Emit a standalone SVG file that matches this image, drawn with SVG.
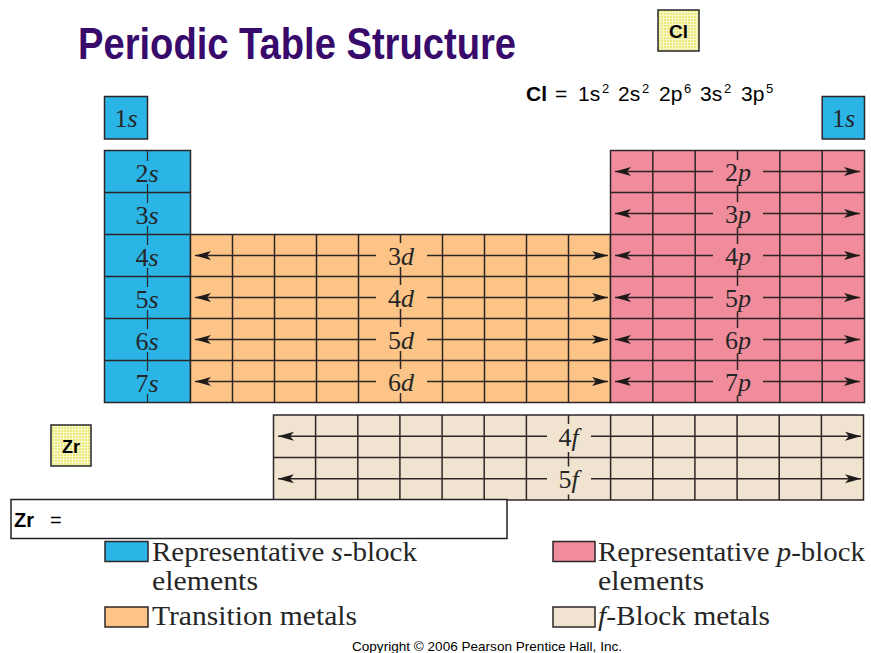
<svg xmlns="http://www.w3.org/2000/svg" width="871" height="653" viewBox="0 0 871 653">
<style>
.bg{fill:#ffffff}
.gl{stroke:#2e2626;stroke-width:1.5;fill:none}
.thin{stroke:#2e2626;stroke-width:1.2;fill:none}
.s{fill:#2BB4E6}
.d{fill:#FCC487}
.p{fill:#F08C9C}
.f{fill:#F0E3D0}
.lbl{font-family:"Liberation Serif","Times New Roman",serif;font-size:26px;fill:#262626;text-anchor:middle}
.it{font-style:italic}
.leg{font-family:"Liberation Serif","Times New Roman",serif;font-size:28px;fill:#262626}
.sw{stroke:#2e2626;stroke-width:1.5}
.sans{font-family:"Liberation Sans",Arial,sans-serif;fill:#000}
.ybox{fill:url(#yel);stroke:#333;stroke-width:1.6}
</style>
<defs>
<pattern id="yel" width="3" height="3" patternUnits="userSpaceOnUse">
<rect width="3" height="3" fill="#E9E97E"/>
<rect width="1" height="3" fill="#F7F7C8"/>
<rect width="3" height="1" fill="#F7F7C8"/>
</pattern>
<marker id="ah" viewBox="0 0 16 10" refX="16" refY="5" markerWidth="16" markerHeight="10" markerUnits="userSpaceOnUse" orient="auto-start-reverse">
<path d="M0,0.5 L16,5 L0,9.5 L4,5 Z" fill="#1e1a1a"/>
</marker>
</defs>
<rect class="bg" width="871" height="653"/>

<g id="title">
<text x="78" y="59" font-family="'Liberation Sans Narrow','Liberation Sans',Arial,sans-serif" font-weight="bold" font-size="44" fill="#370A6B" textLength="438" lengthAdjust="spacingAndGlyphs">Periodic Table Structure</text>
</g>

<g id="cl-box">
<rect class="ybox" x="658" y="10" width="41" height="41"/>
<text class="sans" x="678.5" y="37.5" font-size="19" font-weight="bold" text-anchor="middle">Cl</text>
</g>

<g id="cl-config" class="sans">
<text x="526" y="101" font-size="21" font-weight="bold">Cl</text>
<text x="555" y="101" font-size="21">=</text>
<text x="578" y="101" font-size="21">1s</text><text x="602" y="93" font-size="13">2</text>
<text x="618" y="101" font-size="21">2s</text><text x="642" y="93" font-size="13">2</text>
<text x="659" y="101" font-size="21">2p</text><text x="684" y="93" font-size="13">6</text>
<text x="700" y="101" font-size="21">3s</text><text x="724" y="93" font-size="13">2</text>
<text x="741" y="101" font-size="21">3p</text><text x="766" y="93" font-size="13">5</text>
</g>

<g id="h-1s">
<rect class="s gl" x="104.5" y="96.5" width="43" height="42.5"/>
<text class="lbl" x="126" y="127">1<tspan class="it">s</tspan></text>
</g>

<g id="he-1s">
<rect class="s gl" x="822.2" y="96.5" width="42.3" height="42.5"/>
<text class="lbl" x="843.5" y="127">1<tspan class="it">s</tspan></text>
</g>

<g id="s-block">
<rect class="s" x="104.5" y="150.5" width="86" height="252"/>
<path class="thin" d="M147.5,150.5V402.5"/>
<path class="gl" d="M104.5,192.5H190.5M104.5,234.5H190.5M104.5,276.5H190.5M104.5,318.5H190.5M104.5,360.5H190.5"/>
<g class="s">
<rect x="133" y="161" width="29" height="23"/>
<rect x="133" y="203" width="29" height="23"/>
<rect x="133" y="245" width="29" height="23"/>
<rect x="133" y="287" width="29" height="23"/>
<rect x="133" y="329" width="29" height="23"/>
<rect x="133" y="371" width="29" height="23"/>
</g>
<text class="lbl" x="147" y="182">2<tspan class="it">s</tspan></text>
<text class="lbl" x="147" y="224">3<tspan class="it">s</tspan></text>
<text class="lbl" x="147" y="266">4<tspan class="it">s</tspan></text>
<text class="lbl" x="147" y="308">5<tspan class="it">s</tspan></text>
<text class="lbl" x="147" y="350">6<tspan class="it">s</tspan></text>
<text class="lbl" x="147" y="392">7<tspan class="it">s</tspan></text>
<rect class="gl" x="104.5" y="150.5" width="86" height="252"/>
</g>

<g id="d-block">
<rect class="d" x="190.5" y="234.5" width="420" height="168"/>
<path class="gl" d="M232.5,234.5V402.5M274.5,234.5V402.5M316.5,234.5V402.5M358.5,234.5V402.5M400.5,234.5V402.5M442.5,234.5V402.5M484.5,234.5V402.5M526.5,234.5V402.5M568.5,234.5V402.5"/>
<path class="gl" d="M190.5,276.5H610.5M190.5,318.5H610.5M190.5,360.5H610.5"/>
<g class="d">
<rect x="376" y="243" width="51" height="24"/>
<rect x="376" y="285" width="51" height="24"/>
<rect x="376" y="327" width="51" height="24"/>
<rect x="376" y="369" width="51" height="24"/>
</g>
<text class="lbl" x="401" y="265">3<tspan class="it">d</tspan></text>
<text class="lbl" x="401" y="307">4<tspan class="it">d</tspan></text>
<text class="lbl" x="401" y="349">5<tspan class="it">d</tspan></text>
<text class="lbl" x="401" y="391">6<tspan class="it">d</tspan></text>
<rect class="gl" x="190.5" y="234.5" width="420" height="168"/>
</g>

<g id="p-block">
<rect class="p" x="610.5" y="150.5" width="254" height="252"/>
<path class="gl" d="M652.8,150.5V402.5M695.2,150.5V402.5M737.5,150.5V402.5M779.8,150.5V402.5M822.2,150.5V402.5"/>
<path class="gl" d="M610.5,192.5H864.5M610.5,234.5H864.5M610.5,276.5H864.5M610.5,318.5H864.5M610.5,360.5H864.5"/>
<g class="p">
<rect x="713" y="160" width="50" height="26"/>
<rect x="713" y="202" width="50" height="26"/>
<rect x="713" y="244" width="50" height="26"/>
<rect x="713" y="286" width="50" height="26"/>
<rect x="713" y="328" width="50" height="26"/>
<rect x="713" y="370" width="50" height="26"/>
</g>
<text class="lbl" x="738" y="181">2<tspan class="it">p</tspan></text>
<text class="lbl" x="738" y="223">3<tspan class="it">p</tspan></text>
<text class="lbl" x="738" y="265">4<tspan class="it">p</tspan></text>
<text class="lbl" x="738" y="307">5<tspan class="it">p</tspan></text>
<text class="lbl" x="738" y="349">6<tspan class="it">p</tspan></text>
<text class="lbl" x="738" y="391">7<tspan class="it">p</tspan></text>
<rect class="gl" x="610.5" y="150.5" width="254" height="252"/>
</g>

<g id="f-block">
<rect class="f" x="273.5" y="415" width="590" height="85"/>
<path class="gl" d="M315.6,415V500M357.8,415V500M399.9,415V500M442.1,415V500M484.2,415V500M526.4,415V500M568.5,415V500M610.6,415V500M652.8,415V500M694.9,415V500M737.1,415V500M779.2,415V500M821.4,415V500"/>
<path class="gl" d="M273.5,457.5H863.5"/>
<g class="f">
<rect x="547" y="424" width="44" height="28"/>
<rect x="547" y="466.5" width="44" height="28"/>
</g>
<text class="lbl" x="568.5" y="445.5">4<tspan class="it">f</tspan></text>
<text class="lbl" x="568.5" y="488">5<tspan class="it">f</tspan></text>
<rect class="gl" x="273.5" y="415" width="590" height="85"/>
</g>

<g id="connectors" class="gl">
<path d="M376,255.5H195" marker-end="url(#ah)"/>
<path d="M427,255.5H608" marker-end="url(#ah)"/>
<path d="M376,297.5H195" marker-end="url(#ah)"/>
<path d="M427,297.5H608" marker-end="url(#ah)"/>
<path d="M376,339.5H195" marker-end="url(#ah)"/>
<path d="M427,339.5H608" marker-end="url(#ah)"/>
<path d="M376,381.5H195" marker-end="url(#ah)"/>
<path d="M427,381.5H608" marker-end="url(#ah)"/>
<path d="M713,171.5H615" marker-end="url(#ah)"/>
<path d="M763,171.5H860" marker-end="url(#ah)"/>
<path d="M713,213.5H615" marker-end="url(#ah)"/>
<path d="M763,213.5H860" marker-end="url(#ah)"/>
<path d="M713,255.5H615" marker-end="url(#ah)"/>
<path d="M763,255.5H860" marker-end="url(#ah)"/>
<path d="M713,297.5H615" marker-end="url(#ah)"/>
<path d="M763,297.5H860" marker-end="url(#ah)"/>
<path d="M713,339.5H615" marker-end="url(#ah)"/>
<path d="M763,339.5H860" marker-end="url(#ah)"/>
<path d="M713,381.5H615" marker-end="url(#ah)"/>
<path d="M763,381.5H860" marker-end="url(#ah)"/>
<path d="M547,436.25H278" marker-end="url(#ah)"/>
<path d="M591,436.25H861" marker-end="url(#ah)"/>
<path d="M547,478.75H278" marker-end="url(#ah)"/>
<path d="M591,478.75H861" marker-end="url(#ah)"/>
</g>

<g id="zr-box">
<rect class="ybox" x="51" y="425" width="40" height="41"/>
<text class="sans" x="71" y="453" font-size="18" font-weight="bold" text-anchor="middle">Zr</text>
</g>

<g id="zr-config">
<rect x="11" y="499.5" width="496" height="39" fill="#fff" stroke="#222" stroke-width="1.5"/>
<text class="sans" x="14" y="527" font-size="20" font-weight="bold">Zr</text>
<text class="sans" x="50" y="527" font-size="20">=</text>
</g>

<g id="legend">
<rect class="s sw" x="105" y="541.5" width="43" height="20"/>
<text class="leg" x="152" y="561" textLength="265" lengthAdjust="spacingAndGlyphs">Representative <tspan class="it">s</tspan>-block</text>
<text class="leg" x="152" y="590" textLength="106" lengthAdjust="spacingAndGlyphs">elements</text>
<rect class="d sw" x="105" y="607" width="43" height="20"/>
<text class="leg" x="152" y="624.5" textLength="205" lengthAdjust="spacingAndGlyphs">Transition metals</text>
<rect class="p sw" x="553" y="541.5" width="42" height="20"/>
<text class="leg" x="598" y="561" textLength="267" lengthAdjust="spacingAndGlyphs">Representative <tspan class="it">p</tspan>-block</text>
<text class="leg" x="598" y="590" textLength="106" lengthAdjust="spacingAndGlyphs">elements</text>
<rect class="f sw" x="553" y="607" width="42" height="20"/>
<text class="leg" x="598" y="624.5" textLength="172" lengthAdjust="spacingAndGlyphs"><tspan class="it">f</tspan>-Block metals</text>
</g>

<g id="copyright">
<text class="sans" x="352" y="651" font-size="13" fill="#333" textLength="270" lengthAdjust="spacingAndGlyphs">Copyright © 2006 Pearson Prentice Hall, Inc.</text>
</g>
</svg>
